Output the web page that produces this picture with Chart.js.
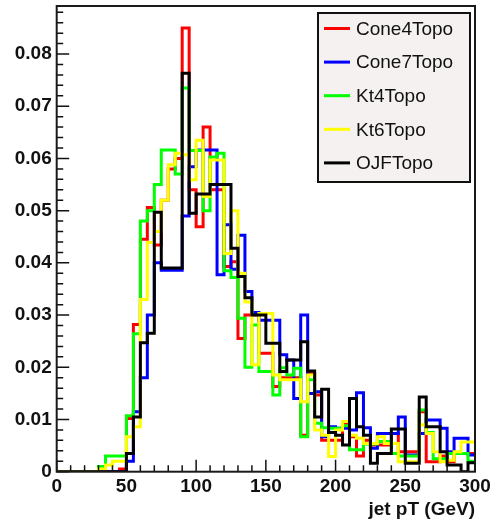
<!DOCTYPE html>
<html>
<head>
<meta charset="utf-8">
<script src="https://cdn.jsdelivr.net/npm/chart.js@4.4.1/dist/chart.umd.min.js"></script>
<style>
  html, body { margin: 0; padding: 0; background: #fff; }
  #jetChart { display: block; }
</style>
</head>
<body>
<canvas id="jetChart" width="491" height="522"></canvas>
<script>
// bin low edges (GeV), last value closes the final bin
var binEdges = [0, 5, 10, 15, 20, 25, 30, 35, 40, 45, 50, 55, 60, 65, 70, 75, 80, 85, 90, 95,
  100, 105, 110, 115, 120, 125, 130, 135, 140, 145, 150, 155, 160, 165, 170, 175, 180, 185, 190, 195,
  200, 205, 210, 215, 220, 225, 230, 235, 240, 245, 250, 255, 260, 265, 270, 275, 280, 285, 290, 295, 300];

var seriesNames = ['Cone4Topo', 'Cone7Topo', 'Kt4Topo', 'Kt6Topo', 'OJFTopo'];
var seriesColors = ['#ff0000', '#0000ff', '#00ff00', '#ffff00', '#000000'];

// normalised entries per 5 GeV bin
var cone4Topo = [0, 0, 0, 0, 0, 0, 0, 0, 0, 0.0005,
  0.0102, 0.0282, 0.0445, 0.0506, 0.0434, 0.052, 0.058, 0.060, 0.085, 0.054,
  0.0469, 0.066, 0.054, 0.054, 0.0393, 0.0402, 0.0255, 0.030, 0.030, 0.0227,
  0.0227, 0.0163, 0.018, 0.018, 0.018, 0.007, 0.0188, 0.0147, 0.006, 0.006,
  0.006, 0.0093, 0.0067, 0.003, 0.006, 0.0051, 0.0051, 0.0051, 0.0073, 0.0038,
  0.0038, 0.0038, 0.0115, 0.0019, 0.0019, 0.003, 0.0019, 0.0035, 0.0035, 0.0035];
var cone7Topo = [0, 0, 0, 0, 0, 0, 0, 0, 0, 0,
  0.002, 0.0115, 0.018, 0.030, 0.040, 0.0386, 0.0386, 0.0386, 0.049, 0.0584,
  0.0616, 0.0616, 0.0616, 0.0377, 0.0473, 0.0388, 0.0453, 0.0345, 0.0305, 0.029,
  0.029, 0.029, 0.0224, 0.0214, 0.014, 0.030, 0.015, 0.0153, 0.0067, 0.0086,
  0.0083, 0.0083, 0.008, 0.0151, 0.0084, 0.0045, 0.0073, 0.0073, 0.0073, 0.0105,
  0.0032, 0.0032, 0.0073, 0.0099, 0.0099, 0.0083, 0.0038, 0.0064, 0.0064, 0.0032];
var kt4Topo = [0, 0, 0, 0, 0, 0, 0.001, 0.003, 0.003, 0.003,
  0.0107, 0.0264, 0.048, 0.050, 0.055, 0.0616, 0.0616, 0.057, 0.0735, 0.0615,
  0.0615, 0.050, 0.0603, 0.061, 0.0385, 0.0372, 0.0294, 0.020, 0.0281, 0.0192,
  0.0192, 0.0147, 0.0199, 0.0185, 0.0198, 0.0067, 0.0176, 0.0093, 0.0084, 0.0083,
  0.0083, 0.0088, 0.0042, 0.0042, 0.0053, 0.0053, 0.0058, 0.0058, 0.0035, 0.003,
  0.003, 0.003, 0.0118, 0.0075, 0.0025, 0.0025, 0.0035, 0.0035, 0.0035, 0.002];
var kt6Topo = [0, 0, 0, 0, 0, 0, 0.0005, 0.0013, 0.002, 0.002,
  0.0067, 0.0086, 0.033, 0.0439, 0.046, 0.052, 0.0588, 0.061, 0.0607, 0.0559,
  0.0635, 0.0527, 0.0597, 0.0597, 0.0418, 0.050, 0.038, 0.0325, 0.0205, 0.0303,
  0.0303, 0.0185, 0.0176, 0.0176, 0.0176, 0.0134, 0.0185, 0.008, 0.007, 0.0029,
  0.008, 0.0096, 0.007, 0.0064, 0.0054, 0.0054, 0.0067, 0.0054, 0.0054, 0.0019,
  0.0019, 0.0019, 0.009, 0.0073, 0.0038, 0.0019, 0.0022, 0.0038, 0.0057, 0.0057];
var ojfTopo = [0, 0, 0, 0, 0, 0, 0, 0, 0, 0,
  0.0035, 0.0105, 0.0247, 0.0265, 0.0497, 0.039, 0.039, 0.039, 0.0763, 0.0495,
  0.0532, 0.0532, 0.055, 0.055, 0.055, 0.0428, 0.0374, 0.0333, 0.030, 0.030,
  0.0246, 0.0246, 0.0192, 0.0214, 0.0214, 0.0249, 0.0193, 0.0105, 0.0158, 0.0075,
  0.007, 0.0051, 0.014, 0.0086, 0.007, 0.0016, 0.0035, 0.0035, 0.0082, 0.0082,
  0.0016, 0.0016, 0.0143, 0.0086, 0.0086, 0.0038, 0.0013, 0.0013, 0, 0.0017];

var xTickValues = [0, 50, 100, 150, 200, 250, 300];
var xTickLabels = ['0', '50', '100', '150', '200', '250', '300'];
var yTickValues = [0, 0.01, 0.02, 0.03, 0.04, 0.05, 0.06, 0.07, 0.08];
var yTickLabels = ['0', '0.01', '0.02', '0.03', '0.04', '0.05', '0.06', '0.07', '0.08'];
var yMax = 0.0892;

var allSeries = [cone4Topo, cone7Topo, kt4Topo, kt6Topo, ojfTopo];

// histogram outline: one point per bin low edge, plus the closing edge
function histPoints(values) {
  var pts = values.map(function(v, i) { return { x: binEdges[i], y: v }; });
  pts.push({ x: binEdges[binEdges.length - 1], y: values[values.length - 1] });
  return pts;
}

var FONT = "'Liberation Sans', Arial, Helvetica, sans-serif";

// ROOT style frame with inward major/minor ticks
var rootFrame = {
  id: 'rootFrame',
  afterDatasetsDraw: function(chart) {
    var c = chart.ctx, a = chart.chartArea;
    var xs = chart.scales.x, ys = chart.scales.y;
    c.save();
    c.strokeStyle = '#111';
    c.lineWidth = 1.5;
    c.beginPath();
    for (var gx = 0; gx <= 300; gx += 10) {
      var px = xs.getPixelForValue(gx);
      var len = gx % 50 === 0 ? 12 : 6.5;
      c.moveTo(px, a.bottom);
      c.lineTo(px, a.bottom - len);
    }
    for (var k = 0; k <= 44; k++) {
      var py = ys.getPixelForValue(k * 0.002);
      var l2 = k % 5 === 0 ? 12.5 : 6.5;
      c.moveTo(a.left, py);
      c.lineTo(a.left + l2, py);
    }
    c.stroke();
    c.lineWidth = 2;
    c.strokeStyle = '#1a1a1a';
    c.strokeRect(a.left, a.top, a.right - a.left, a.bottom - a.top);
    c.restore();
  }
};

// boxed legend in the upper right corner
var boxLegend = {
  id: 'boxLegend',
  afterDraw: function(chart) {
    var c = chart.ctx;
    var bx = 318, by = 13, bw = 152, bh = 169;
    c.save();
    c.fillStyle = '#f6f1f1';
    c.fillRect(bx, by, bw, bh);
    c.lineWidth = 2;
    c.strokeStyle = '#111';
    c.strokeRect(bx, by, bw, bh);
    c.font = '19px ' + FONT;
    c.textBaseline = 'middle';
    chart.data.datasets.forEach(function(ds, i) {
      var cy = 28.5 + i * 33.6;
      c.strokeStyle = ds.borderColor;
      c.lineWidth = 3;
      c.beginPath();
      c.moveTo(324, cy);
      c.lineTo(350, cy);
      c.stroke();
      c.fillStyle = '#111';
      c.fillText(ds.label, 356, cy + 1);
    });
    c.restore();
  }
};

var ctx = document.getElementById('jetChart').getContext('2d');
new Chart(ctx, {
  type: 'line',
  data: {
    datasets: allSeries.map(function(vals, i) {
      return {
        label: seriesNames[i],
        data: histPoints(vals),
        borderColor: seriesColors[i],
        backgroundColor: seriesColors[i],
        borderWidth: 3,
        stepped: true,
        pointRadius: 0,
        fill: false,
        borderJoinStyle: 'miter',
        order: allSeries.length - 1 - i
      };
    })
  },
  options: {
    responsive: false,
    animation: false,
    layout: { padding: { left: 0, top: 6, right: 16, bottom: 0 } },
    plugins: {
      legend: { display: false },
      tooltip: { enabled: false }
    },
    scales: {
      x: {
        type: 'linear',
        min: 0,
        max: 300,
        grid: { display: false, drawTicks: false },
        border: { display: false },
        afterBuildTicks: function(s) { s.ticks = xTickValues.map(function(v) { return { value: v }; }); },
        afterFit: function(s) { s.height = 50.3; s.paddingLeft = 0; s.paddingRight = 0; },
        ticks: {
          padding: 4,
          autoSkip: false,
          maxRotation: 0,
          color: '#111',
          font: { family: FONT, size: 19, weight: 'bold' },
          callback: function(v, i) { return xTickLabels[i]; }
        },
        title: {
          display: true,
          text: 'jet pT (GeV)',
          align: 'end',
          color: '#111',
          font: { family: FONT, size: 19, weight: 'bold' },
          padding: { top: 0, bottom: 1 }
        }
      },
      y: {
        type: 'linear',
        min: 0,
        max: yMax,
        grid: { display: false, drawTicks: false },
        border: { display: false },
        afterBuildTicks: function(s) { s.ticks = yTickValues.map(function(v) { return { value: v }; }); },
        afterFit: function(s) { s.width = 56.7; s.paddingTop = 0; s.paddingBottom = 0; },
        ticks: {
          padding: 5,
          color: '#111',
          font: { family: FONT, size: 19, weight: 'bold' },
          callback: function(v, i) { return yTickLabels[i]; }
        }
      }
    }
  },
  plugins: [rootFrame, boxLegend]
});
</script>
</body>
</html>
